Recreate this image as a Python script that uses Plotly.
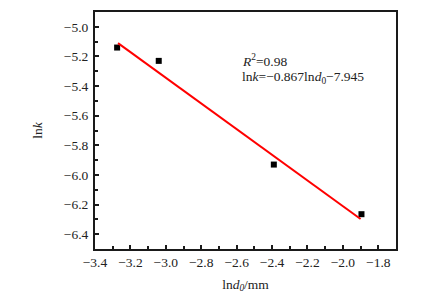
import numpy as np
import plotly.graph_objects as go

# Data
ln_d0 = [-3.275, -3.04, -2.39, -1.895]
ln_k = [-5.14, -5.23, -5.93, -6.265]

# Fit line: lnk = slope * lnd0 + intercept
slope = -0.867
intercept = -7.945
fit_x = np.array([-3.27, -1.90])
fit_y = slope * fit_x + intercept

x_ticks = [-3.4, -3.2, -3.0, -2.8, -2.6, -2.4, -2.2, -2.0, -1.8]
y_ticks = [-5.0, -5.2, -5.4, -5.6, -5.8, -6.0, -6.2, -6.4]

FONT = "Liberation Serif, Times New Roman, serif"

fig = go.Figure()
fig.add_trace(go.Scatter(x=ln_d0, y=ln_k, mode="markers",
                         marker=dict(symbol="square", size=6, color="black"),
                         showlegend=False))
fig.add_trace(go.Scatter(x=fit_x, y=fit_y, mode="lines",
                         line=dict(color="#ff0000", width=2),
                         showlegend=False))

axis_common = dict(showgrid=False, zeroline=False, showline=True,
                   linecolor="#1a1a1a", linewidth=2, mirror=True,
                   automargin=False,
                   ticks="inside", ticklen=4, tickwidth=1.5, tickcolor="#1a1a1a",
                   tickfont=dict(family=FONT, size=13.5, color="#222"))

fig.update_xaxes(range=[-3.4, -1.7], tickvals=x_ticks,
                 ticktext=[f"\u2212{abs(v):.1f}" for v in x_ticks],
                 minor=dict(ticks="inside", ticklen=3, tickwidth=1.5,
                            tickcolor="#1a1a1a", dtick=0.1, showgrid=False),
                 title=dict(text="ln<i>d</i><sub><i>0</i></sub>/mm",
                            font=dict(family=FONT, size=13.5, color="#222"),
                            standoff=10),
                 **axis_common)
fig.update_yaxes(range=[-6.5, -4.9], tickvals=y_ticks,
                 ticktext=[f"\u2212{abs(v):.1f}" for v in y_ticks],
                 ticklabelstandoff=2,
                 minor=dict(ticks="inside", ticklen=3, tickwidth=1.5,
                            tickcolor="#1a1a1a", dtick=0.1, showgrid=False),
                 title=dict(text="ln<i>k</i>",
                            font=dict(family=FONT, size=13.5, color="#222"),
                            standoff=18),
                 **axis_common)

fig.add_annotation(x=-2.58, y=-5.225, xref="x", yref="y", xanchor="left",
                   text="<i>R</i><sup>2</sup>=0.98", showarrow=False,
                   font=dict(family=FONT, size=13.5, color="#222"))
fig.add_annotation(x=-2.58, y=-5.345, xref="x", yref="y", xanchor="left",
                   text="ln<i>k</i>=\u22120.867ln<i>d</i><sub>0</sub>\u22127.945",
                   showarrow=False,
                   font=dict(family=FONT, size=13.5, color="#222"))

# The page body adds an 8px offset, so margins are reduced accordingly
fig.update_layout(width=432, height=296,
                  margin=dict(l=87, r=44, t=4, b=55),
                  plot_bgcolor="white", paper_bgcolor="white")

fig.write_html("out.html")
